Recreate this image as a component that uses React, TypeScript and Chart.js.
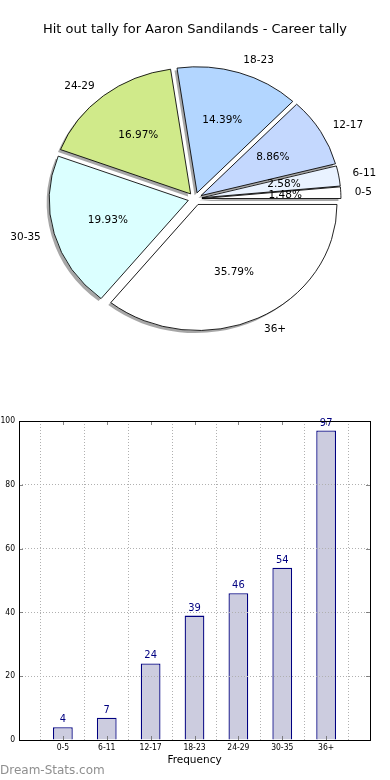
import React, { useEffect, useRef } from 'react';
import { Chart, registerables } from 'chart.js';

Chart.register(...registerables);

const TITLE = 'Hit out tally for Aaron Sandilands - Career tally';
const categories = ['0-5', '6-11', '12-17', '18-23', '24-29', '30-35', '36+'];
const counts = [4, 7, 24, 39, 46, 54, 97];
const sliceColors = ['#ffffff', '#e9f2ff', '#c4d8fe', '#b3d6ff', '#d0ea8a', '#dbffff', '#ffffff'];
const yTicks = [0, 20, 40, 60, 80, 100];
const xAxisTitle = 'Frequency';
const watermark = 'Dream-Stats.com';

const PIE_RX = 139;
const PIE_RY = 126;
const EXPLODE = 0.05;
const LABEL_DIST = 1.1;
const PCT_DIST = 0.6;
const BAR_WIDTH = 0.45;
const SHADOW = { dx: -2.5, dy: 2.5, color: 'rgba(60,60,60,0.45)' };

const total = counts.reduce((a, b) => a + b, 0);
// matplotlib draws counter-clockwise from 3 o'clock; Chart.js clockwise -> reverse
const pieLabels = [...categories].reverse();
const pieValues = [...counts].reverse();
const pieColors = [...sliceColors].reverse();

const ellipsePiePlugin = {
  id: 'ellipsePie',
  beforeDatasetsDraw(chart: any) {
    const ctx = chart.ctx as CanvasRenderingContext2D;
    const arcs = chart.getDatasetMeta(0).data as any[];
    const sy = PIE_RY / PIE_RX;
    const pass = (shadow: boolean) => {
      arcs.forEach((arc) => {
        const mid = (arc.startAngle + arc.endAngle) / 2;
        const t = EXPLODE * arc.outerRadius;
        ctx.save();
        if (shadow) ctx.translate(SHADOW.dx, SHADOW.dy);
        ctx.translate(arc.x, arc.y);
        ctx.scale(1, sy);
        ctx.translate(-arc.x, -arc.y);
        ctx.translate(t * Math.cos(mid), t * Math.sin(mid));
        const orig = arc.options;
        if (shadow) {
          arc.options = { ...orig, backgroundColor: SHADOW.color, borderColor: 'rgba(0,0,0,0)', borderWidth: 0 };
        }
        arc.draw(ctx);
        arc.options = orig;
        ctx.restore();
      });
    };
    pass(true);
    pass(false);
    return false;
  },
  afterDraw(chart: any) {
    const ctx = chart.ctx as CanvasRenderingContext2D;
    const arcs = chart.getDatasetMeta(0).data as any[];
    const sy = PIE_RY / PIE_RX;
    ctx.save();
    ctx.font = '10.5px "DejaVu Sans"';
    ctx.fillStyle = '#000';
    ctx.textBaseline = 'middle';
    arcs.forEach((arc, i) => {
      const mid = (arc.startAngle + arc.endAngle) / 2;
      const c = Math.cos(mid);
      const s = Math.sin(mid);
      const rx = arc.outerRadius;
      const ry = rx * sy;
      const lx = arc.x + rx * (EXPLODE + LABEL_DIST) * c;
      const ly = arc.y + ry * (EXPLODE + LABEL_DIST) * s;
      ctx.textAlign = c > 0 ? 'left' : 'right';
      ctx.fillText(pieLabels[i], lx, ly);
      const px = arc.x + rx * (EXPLODE + PCT_DIST) * c;
      const py = arc.y + ry * (EXPLODE + PCT_DIST) * s;
      ctx.textAlign = 'center';
      ctx.fillText(((pieValues[i] / total) * 100).toFixed(2) + '%', px, py);
    });
    ctx.restore();
  },
};

const barDecorPlugin = {
  id: 'barDecor',
  afterDatasetsDraw(chart: any) {
    const ctx = chart.ctx as CanvasRenderingContext2D;
    const bars = chart.getDatasetMeta(0).data as any[];
    ctx.save();
    ctx.font = '11px "DejaVu Sans Condensed", "DejaVu Sans"';
    ctx.fillStyle = '#000080';
    ctx.textAlign = 'center';
    ctx.textBaseline = 'alphabetic';
    bars.forEach((bar, i) => {
      ctx.fillText(String(counts[i]), bar.x, bar.y - 5);
    });
    ctx.restore();
  },
  afterDraw(chart: any) {
    const ctx = chart.ctx as CanvasRenderingContext2D;
    const { left, right, top, bottom } = chart.chartArea;
    const xs = chart.scales.x;
    const ys = chart.scales.y;
    ctx.save();
    ctx.strokeStyle = '#666';
    ctx.lineWidth = 0.8;
    ctx.beginPath();
    yTicks.forEach((v) => {
      const y = Math.round(ys.getPixelForValue(v)) + 0.5;
      ctx.moveTo(left, y);
      ctx.lineTo(left + 4, y);
      ctx.moveTo(right, y);
      ctx.lineTo(right - 4, y);
    });
    categories.forEach((_, i) => {
      const x = Math.round(xs.getPixelForValue(i + 1)) + 0.5;
      ctx.moveTo(x, bottom);
      ctx.lineTo(x, bottom - 4);
      ctx.moveTo(x, top);
      ctx.lineTo(x, top + 4);
    });
    ctx.stroke();
    ctx.strokeStyle = '#000';
    ctx.lineWidth = 1;
    ctx.strokeRect(Math.round(left) + 0.5, Math.round(top) + 0.5, Math.round(right - left), Math.round(bottom - top));
    ctx.restore();
  },
};

function PieChart() {
  const ref = useRef<HTMLCanvasElement>(null);
  useEffect(() => {
    if (!ref.current) return;
    const chart = new Chart(ref.current, {
      type: 'pie',
      data: {
        labels: pieLabels,
        datasets: [
          {
            data: pieValues,
            backgroundColor: pieColors,
            borderColor: '#000',
            borderWidth: 0.9,
            hoverOffset: 0,
            offset: 0,
            radius: PIE_RX,
          } as any,
        ],
      },
      options: {
        responsive: false,
        animation: false,
        events: [],
        rotation: 90,
        layout: { padding: 0 },
        plugins: {
          legend: { display: false },
          tooltip: { enabled: false },
          title: {
            display: true,
            text: TITLE,
            color: '#000',
            font: { family: '"DejaVu Sans"', size: 13, weight: 'normal' },
            padding: { top: 22, bottom: 0 },
          },
        },
      } as any,
      plugins: [ellipsePiePlugin],
    });
    return () => chart.destroy();
  }, []);
  return <canvas ref={ref} width={390} height={360} style={{ display: 'block', width: 390, height: 360 }} />;
}

function BarChart() {
  const ref = useRef<HTMLCanvasElement>(null);
  useEffect(() => {
    if (!ref.current) return;
    const tickFont = { family: '"DejaVu Sans Condensed", "DejaVu Sans"', size: 8.5 };
    const chart = new Chart(ref.current, {
      type: 'bar',
      data: {
        datasets: [
          {
            data: counts.map((v, i) => ({ x: i + 1, y: v })),
            backgroundColor: '#ccccdf',
            borderColor: '#000080',
            borderWidth: 1.3,
            barPercentage: BAR_WIDTH,
            categoryPercentage: 1,
          },
        ],
      },
      options: {
        responsive: false,
        animation: false,
        events: [],
        layout: { padding: { top: 21, right: 20, left: 0, bottom: 0 } },
        plugins: { legend: { display: false }, tooltip: { enabled: false } },
        scales: {
          x: {
            type: 'linear',
            min: 0,
            max: categories.length + 1,
            offset: false,
            afterFit: (s: any) => {
              s.height = 40;
            },
            afterBuildTicks: (s: any) => {
              s.ticks = [0, ...categories.map((_, i) => i + 1), categories.length + 1].map((v) => ({ value: v }));
            },
            ticks: {
              autoSkip: false,
              maxRotation: 0,
              padding: 3,
              color: '#000',
              font: tickFont,
              callback: (v: any) => categories[Number(v) - 1] ?? '',
            },
            grid: { color: '#b0b0b0', lineWidth: 1, drawTicks: false, z: 1 },
            border: { display: false, dash: [1, 2] },
            title: {
              display: true,
              text: xAxisTitle,
              color: '#000',
              font: { family: '"DejaVu Sans"', size: 10.5 },
              padding: { top: 0, bottom: 13.5 },
            },
          },
          y: {
            min: 0,
            max: 100,
            afterFit: (s: any) => {
              s.width = 19;
            },
            afterBuildTicks: (s: any) => {
              s.ticks = yTicks.map((v) => ({ value: v }));
            },
            ticks: { padding: 4, color: '#000', font: tickFont },
            grid: { color: '#b0b0b0', lineWidth: 1, drawTicks: false, z: 1 },
            border: { display: false, dash: [1, 2] },
          },
        },
      } as any,
      plugins: [barDecorPlugin],
    });
    return () => chart.destroy();
  }, []);
  return <canvas ref={ref} width={390} height={380} style={{ display: 'block', width: 390, height: 380 }} />;
}

export default function App() {
  return (
    <div style={{ position: 'absolute', left: 0, top: 0, width: 390, height: 780, background: '#fff', overflow: 'hidden' }}>
      <div style={{ position: 'absolute', left: 0, top: 0 }}>
        <PieChart />
      </div>
      <div style={{ position: 'absolute', left: 0, top: 400 }}>
        <BarChart />
      </div>
      <div
        style={{
          position: 'absolute',
          left: 0,
          top: 763,
          fontFamily: '"DejaVu Sans", sans-serif',
          fontSize: 12,
          lineHeight: '14px',
          color: '#8f8f8f',
          whiteSpace: 'nowrap',
        }}
      >
        {watermark}
      </div>
    </div>
  );
}
